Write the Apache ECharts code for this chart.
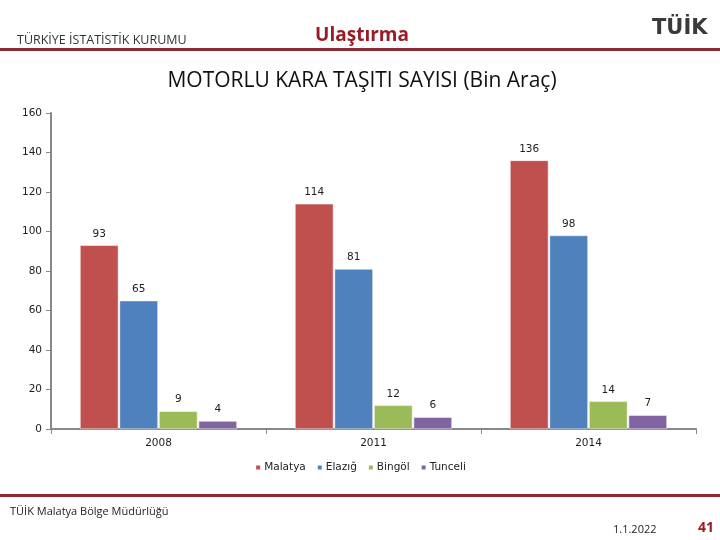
<!DOCTYPE html>
<html><head><meta charset="utf-8">
<script src="https://cdn.jsdelivr.net/npm/echarts@6/dist/echarts.min.js"></script>
<style>html,body{margin:0;padding:0;background:#fff}#c{width:720px;height:540px}</style>
</head><body><div id="c"></div>
<script>
const categories = ['2008', '2011', '2014'];
const seriesNames = ['Malatya', 'Elazığ', 'Bingöl', 'Tunceli'];
const malatya = [93, 114, 136];
const elazig = [65, 81, 98];
const bingol = [9, 12, 14];
const tunceli = [4, 6, 7];
const yTicks = {min: 0, max: 160, interval: 20};

const colors = ['#C0504D', '#4F81BD', '#9BBB59', '#8064A2'];
const data = [malatya, elazig, bingol, tunceli];
const chart = echarts.init(document.getElementById('c'));
const font = 'DejaVu Sans';
chart.setOption({
  animation: false,
  color: colors,
  title: [
    {text: 'MOTORLU KARA TAŞITI SAYISI (Bin Araç)', left: 357, top: 66, textAlign: 'center',
     textStyle: {fontFamily: 'Open Sans', fontSize: 21, fontWeight: 'normal', color: '#111'}},
    {text: 'Ulaştırma', left: 357, top: 21, textAlign: 'center',
     textStyle: {fontFamily: 'Open Sans', fontSize: 19, fontWeight: 'bold', color: '#9B1B24'}},
    {text: 'TÜRKİYE İSTATİSTİK KURUMU', left: 12, top: 29,
     textStyle: {fontFamily: 'Open Sans', fontSize: 12.5, fontWeight: 'normal', color: '#333'}},
    {text: 'TÜİK', left: 647, top: 13,
     textStyle: {fontFamily: 'DejaVu Sans', fontSize: 21, fontWeight: 'bold', color: '#3a3a3a'}},
    {text: 'TÜİK Malatya Bölge Müdürlüğü', left: 5, top: 501,
     textStyle: {fontFamily: 'Open Sans', fontSize: 11, fontWeight: 'normal', color: '#222'}},
    {text: '1.1.2022', left: 608, top: 519,
     textStyle: {fontFamily: 'Open Sans', fontSize: 11, fontWeight: 'normal', color: '#222'}},
    {text: '41', left: 693, top: 516,
     textStyle: {fontFamily: 'Open Sans', fontSize: 14, fontWeight: 'bold', color: '#9B1B24'}}
  ],
  graphic: [
    {type: 'rect', shape: {x: 0, y: 48, width: 720, height: 3}, style: {fill: '#8E2A33'}},
    {type: 'rect', shape: {x: 0, y: 494, width: 720, height: 3}, style: {fill: '#8E2A33'}}
  ],
  legend: {
    bottom: 62, left: 'center', itemWidth: 6, itemHeight: 6, itemGap: 10,
    icon: 'rect',
    textStyle: {fontFamily: font, fontSize: 10.5, color: '#222', padding: [0, 0, 0, -2]},
    data: seriesNames
  },
  grid: {left: 51, right: 24, top: 113, bottom: 111, containLabel: false},
  xAxis: {
    type: 'category', data: categories,
    axisLine: {lineStyle: {color: '#888', width: 2}},
    axisTick: {show: true, length: 5, lineStyle: {color: '#888', width: 1}},
    axisLabel: {fontFamily: font, fontSize: 10.5, color: '#222', margin: 9}
  },
  yAxis: {
    type: 'value', min: yTicks.min, max: yTicks.max, interval: yTicks.interval,
    axisLine: {show: true, lineStyle: {color: '#888', width: 2}},
    axisTick: {show: true, length: 5, lineStyle: {color: '#888'}},
    splitLine: {show: false},
    axisLabel: {fontFamily: font, fontSize: 10.5, color: '#222', margin: 9}
  },
  series: seriesNames.map((n, i) => ({
    name: n, type: 'bar', data: data[i],
    barGap: '3%', barCategoryGap: '27%',
    itemStyle: {color: colors[i], borderColor: '#fff', borderWidth: 0.5},
    label: {show: true, position: 'top', distance: 6, fontFamily: font, fontSize: 10.5, color: '#222'}
  }))
});
</script></body></html>
